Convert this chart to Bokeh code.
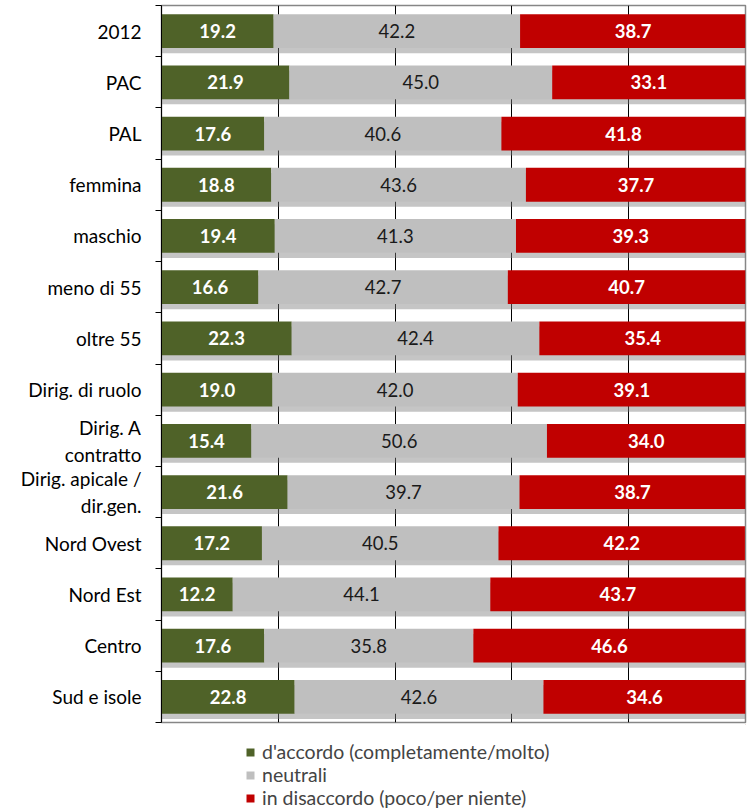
from bokeh.plotting import figure
from bokeh.layouts import column
from bokeh.models import ColumnDataSource, FixedTicker, Legend, LegendItem, Range1d
from bokeh.core.properties import value
from bokeh.embed import file_html
from bokeh.resources import INLINE

categories = ["2012", "PAC", "PAL", "femmina", "maschio", "meno di 55", "oltre 55",
              "Dirig. di ruolo", "Dirig. A\ncontratto", "Dirig. apicale /\ndir.gen.",
              "Nord Ovest", "Nord Est", "Centro", "Sud e isole"]
agree = [19.2, 21.9, 17.6, 18.8, 19.4, 16.6, 22.3, 19.0, 15.4, 21.6, 17.2, 12.2, 17.6, 22.8]
neutral = [42.2, 45.0, 40.6, 43.6, 41.3, 42.7, 42.4, 42.0, 50.6, 39.7, 40.5, 44.1, 35.8, 42.6]
disagree = [38.7, 33.1, 41.8, 37.7, 39.3, 40.7, 35.4, 39.1, 34.0, 38.7, 42.2, 43.7, 46.6, 34.6]
series_names = ["d'accordo (completamente/molto)", "neutrali", "in disaccordo (poco/per niente)"]
colors = ["#4F6228", "#BFBFBF", "#C00000"]

FONT = "Lato"
n = len(categories)
ypos = list(range(n))
a_end = list(agree)
n_end = [a + b for a, b in zip(agree, neutral)]
d_end = [a + b + c for a, b, c in zip(agree, neutral, disagree)]

src = ColumnDataSource(dict(
    y=ypos,
    ys=[y + 0.1 for y in ypos],
    a0=[0] * n, a1=a_end,
    n0=a_end, n1=n_end,
    d0=n_end, d1=d_end,
    am=[e / 2 for e in a_end],
    nm=[(s + e) / 2 for s, e in zip(a_end, n_end)],
    dm=[(s + e) / 2 for s, e in zip(n_end, d_end)],
    at=[f"{v:.1f}" for v in agree],
    nt=[f"{v:.1f}" for v in neutral],
    dt=[f"{v:.1f}" for v in disagree],
))

p = figure(width=748, height=724, output_backend="svg", toolbar_location=None,
           x_range=Range1d(0, 100), y_range=Range1d(n - 0.5, -0.5),
           min_border_left=161, min_border_right=3, min_border_top=5, min_border_bottom=2)

# soft shadow under bars
p.hbar(y="ys", left="a0", right="d1", height=0.66, fill_color="#7F7F7F", fill_alpha=0.45,
       line_color=None, source=src)

bh = 0.66
p.hbar(y="y", left="a0", right="a1", height=bh, fill_color=colors[0], line_color=None, source=src)
p.hbar(y="y", left="n0", right="n1", height=bh, fill_color=colors[1], line_color=None, source=src)
p.hbar(y="y", left="d0", right="d1", height=bh, fill_color=colors[2], line_color=None, source=src)

p.text(x="am", y="y", text="at", source=src, text_align="center", text_baseline="middle",
       text_color="white", text_font=value(FONT), text_font_style="bold", text_font_size="18.5px")
p.text(x="nm", y="y", text="nt", source=src, text_align="center", text_baseline="middle",
       text_color="#1a1a1a", text_font=value(FONT), text_font_size="18.5px")
p.text(x="dm", y="y", text="dt", source=src, text_align="center", text_baseline="middle",
       text_color="white", text_font=value(FONT), text_font_style="bold", text_font_size="18.5px")

p.xaxis.visible = False
p.xgrid.ticker = FixedTicker(ticks=[20, 40, 60, 80])
p.xgrid.grid_line_color = "black"
p.xgrid.grid_line_width = 1
p.ygrid.visible = False

yax = p.yaxis[0]
yax.ticker = FixedTicker(ticks=ypos, minor_ticks=[i - 0.5 for i in range(n + 1)])
yax.major_label_overrides = {i: c for i, c in enumerate(categories)}
yax.major_tick_out = 0
yax.major_tick_in = 0
yax.minor_tick_out = 6
yax.minor_tick_in = 0
yax.minor_tick_line_color = "black"
yax.axis_line_color = "black"
yax.major_label_text_font = FONT
yax.major_label_text_font_size = "19px"
yax.major_label_text_color = "black"
yax.major_label_standoff = 14

p.outline_line_color = "#868686"
p.outline_line_width = 1.5

# legend panel
lg = figure(width=748, height=85, output_backend="svg", toolbar_location=None,
            x_range=Range1d(0, 1), y_range=Range1d(0, 1),
            min_border=0)
lg.axis.visible = False
lg.grid.visible = False
lg.outline_line_color = None
rs = [lg.hbar(y=[5], left=[5], right=[6], height=1, fill_color=c, line_color=None) for c in colors]
legend = Legend(items=[LegendItem(label=s, renderers=[r]) for s, r in zip(series_names, rs)],
                orientation="vertical", location=(84, 0),
                glyph_width=10, glyph_height=10, label_height=23, spacing=0,
                label_text_font=FONT, label_text_font_size="19.5px", label_standoff=7,
                border_line_color=None, background_fill_alpha=0, padding=0, margin=0)
lg.add_layout(legend)

open("out.html", "w").write(file_html(column(p, lg, spacing=0), INLINE))
